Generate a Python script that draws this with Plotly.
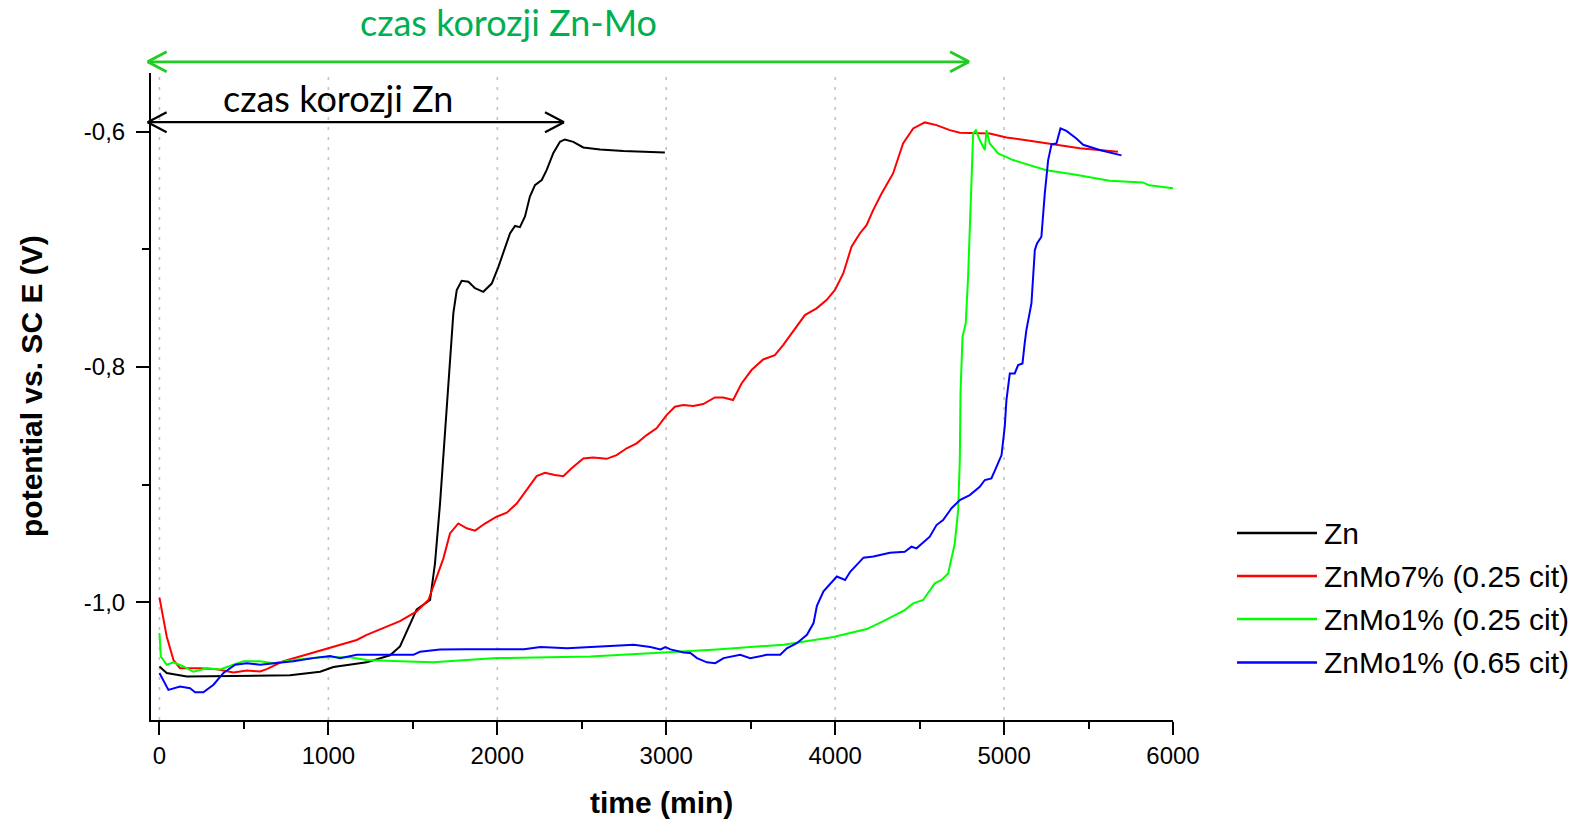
import plotly.graph_objects as go

# ---- measured open-circuit potential vs. time ----
zn_t = [0, 43, 162, 438, 635, 773, 951, 1030, 1227, 1365, 1424, 1523, 1602, 1631, 1661,
        1690, 1720, 1740, 1760, 1789, 1829, 1868, 1917, 1967, 2006, 2046, 2075, 2105,
        2134, 2164, 2193, 2223, 2263, 2292, 2332, 2371, 2400, 2450, 2509, 2608, 2746, 2992]
zn_e = [-1.0545, -1.060, -1.063, -1.0625, -1.0625, -1.062, -1.059, -1.055, -1.051, -1.045,
        -1.0375, -1.006, -0.998, -0.967, -0.916, -0.859, -0.794, -0.754, -0.7345, -0.7266,
        -0.7275, -0.733, -0.736, -0.729, -0.715, -0.698, -0.6864, -0.680, -0.681, -0.672,
        -0.655, -0.6453, -0.641, -0.6326, -0.618, -0.6085, -0.6065, -0.6085, -0.6133,
        -0.615, -0.6164, -0.6175]

mo7_t = [0, 43, 83, 122, 240, 340, 438, 517, 596, 635, 734, 832, 931, 1030, 1168, 1227,
         1424, 1523, 1592, 1681, 1720, 1769, 1819, 1868, 1927, 1996, 2056, 2115, 2174,
         2233, 2282, 2341, 2391, 2440, 2509, 2568, 2647, 2706, 2766, 2825, 2884, 2943,
         3002, 3051, 3101, 3160, 3219, 3288, 3337, 3396, 3446, 3505, 3574, 3643, 3692,
         3751, 3821, 3890, 3949, 3998, 4048, 4097, 4146, 4186, 4225, 4275, 4343, 4402,
         4462, 4531, 4600, 4679, 4738, 4915, 5014, 5152, 5290, 5448, 5674]
mo7_e = [-0.996, -1.029, -1.049, -1.056, -1.056, -1.0568, -1.0597, -1.058, -1.0588, -1.0568,
         -1.050, -1.046, -1.042, -1.0375, -1.032, -1.0276, -1.016, -1.0077, -0.998, -0.9626,
         -0.9414, -0.9329, -0.937, -0.939, -0.933, -0.9272, -0.9238, -0.916, -0.9046,
         -0.8927, -0.8898, -0.8918, -0.8927, -0.886, -0.8776, -0.8768, -0.878, -0.8748,
         -0.869, -0.8648, -0.8578, -0.852, -0.8408, -0.8337, -0.8323, -0.833, -0.8314,
         -0.8258, -0.8258, -0.828, -0.8139, -0.8025, -0.7935, -0.7898, -0.7813, -0.770,
         -0.7558, -0.7501, -0.743, -0.7346, -0.7204, -0.6977, -0.6864, -0.6793, -0.6666,
         -0.6524, -0.6354, -0.6099, -0.5971, -0.592, -0.5943, -0.5986, -0.6008, -0.6014,
         -0.6048, -0.6076, -0.6105, -0.614, -0.617]

mo1a_t = [0, 8, 43, 83, 142, 201, 280, 359, 438, 497, 596, 675, 793, 951, 1128, 1227, 1424,
          1621, 1818, 2000, 2552, 2709, 2985, 3300, 3695, 3990, 4187, 4286, 4412, 4462,
          4521, 4590, 4630, 4669, 4708, 4728, 4738, 4742, 4754, 4773, 4787, 4801, 4817,
          4833, 4856, 4886, 4896, 4915, 4965, 5053, 5152, 5251, 5408, 5625, 5821, 5860, 6000]
mo1a_e = [-1.026, -1.046, -1.053, -1.051, -1.0545, -1.059, -1.056, -1.057, -1.053, -1.050,
          -1.050, -1.0517, -1.049, -1.0466, -1.0466, -1.049, -1.050, -1.051, -1.049, -1.0474,
          -1.046, -1.0446, -1.0426, -1.040, -1.036, -1.0295, -1.0227, -1.016, -1.0066,
          -1.0009, -0.998, -0.9838, -0.981, -0.9754, -0.950, -0.9216, -0.879, -0.8224,
          -0.7742, -0.7629, -0.7232, -0.6666, -0.6014, -0.5986, -0.607, -0.6156, -0.5986,
          -0.6099, -0.6184, -0.624, -0.6283, -0.6326, -0.636, -0.6415, -0.643, -0.6455, -0.648]

mo1b_t = [0, 53, 122, 181, 211, 260, 320, 379, 448, 517, 596, 675, 793, 911, 1010, 1069,
          1168, 1345, 1503, 1542, 1661, 1818, 2000, 2158, 2256, 2414, 2611, 2808, 2906,
          2966, 2995, 3025, 3103, 3143, 3182, 3241, 3290, 3340, 3438, 3497, 3596, 3675,
          3714, 3773, 3833, 3872, 3892, 3931, 4010, 4059, 4089, 4168, 4227, 4324, 4412,
          4452, 4482, 4560, 4600, 4639, 4689, 4738, 4797, 4856, 4886, 4925, 4955, 4985,
          5004, 5014, 5034, 5063, 5083, 5109, 5122, 5132, 5162, 5182, 5195, 5221, 5241,
          5261, 5281, 5310, 5334, 5369, 5428, 5468, 5566, 5695]
mo1b_e = [-1.060, -1.0744, -1.0716, -1.073, -1.0764, -1.0764, -1.070, -1.060, -1.053,
          -1.0517, -1.053, -1.0517, -1.050, -1.0474, -1.0455, -1.0474, -1.0446, -1.0446,
          -1.0446, -1.042, -1.040, -1.0398, -1.040, -1.0398, -1.038, -1.039, -1.0375,
          -1.036, -1.038, -1.040, -1.038, -1.040, -1.0426, -1.043, -1.0474, -1.051, -1.0517,
          -1.0474, -1.0446, -1.0474, -1.0446, -1.0446, -1.039, -1.0347, -1.0276, -1.0176,
          -1.003, -0.9906, -0.978, -0.981, -0.974, -0.962, -0.961, -0.9578, -0.957, -0.9527,
          -0.9541, -0.9442, -0.9343, -0.930, -0.920, -0.913, -0.9088, -0.9017, -0.896,
          -0.8946, -0.8848, -0.8748, -0.8507, -0.828, -0.8054, -0.8054, -0.7983, -0.7969,
          -0.7799, -0.7686, -0.7459, -0.7006, -0.6949, -0.6892, -0.6524, -0.624, -0.6107,
          -0.6099, -0.5971, -0.5992, -0.6056, -0.611, -0.6155, -0.620]

series_names = ["Zn", "ZnMo7% (0.25 cit)", "ZnMo1% (0.25 cit)", "ZnMo1% (0.65 cit)"]
series_colors = ["#000000", "#ff0000", "#00ff00", "#0000ff"]

x_ticks_major = [0, 1000, 2000, 3000, 4000, 5000, 6000]
y_tick_vals = [-0.6, -0.8, -1.0]
y_tick_text = ["-0,6", "-0,8", "-1,0"]
grid_x = [0, 1000, 2000, 3000, 4000, 5000]

# corrosion-time spans (min) and the potential level they are drawn at
span_start = -70
span_zn_end = 2395
span_znmo_end = 4793
span_zn_level = -0.5918
span_znmo_level = -0.5405

XR = [-50, 6000]
YR = [-1.1, -0.55]

W, H = 1579, 822
ML, MR, MT, MB = 151, 406, 73, 102
PW, PH = W - ML - MR, H - MT - MB

FONT = "Arial, 'Liberation Sans', sans-serif"
TITLE_FONT = "Lato, 'Open Sans', sans-serif"


def paper_x(v):
    return (v - XR[0]) / (XR[1] - XR[0])


def paper_y(v):
    return (v - YR[0]) / (YR[1] - YR[0])


fig = go.Figure()
for t, e, name, col in zip([zn_t, mo7_t, mo1a_t, mo1b_t], [zn_e, mo7_e, mo1a_e, mo1b_e],
                           series_names, series_colors):
    fig.add_trace(go.Scatter(x=t, y=e, mode="lines", name=name,
                             line=dict(color=col, width=2), showlegend=False))

shapes = []
# dotted vertical grid
for g in grid_x:
    shapes.append(dict(type="line", xref="x", yref="paper", x0=g, x1=g, y0=0, y1=1,
                       layer="below", line=dict(color="#c4c4c4", width=1.6, dash="3px,7px")))


def double_arrow(x0, x1, level, color, width):
    yp = paper_y(level)
    a, b = paper_x(x0), paper_x(x1)
    hx, hy = 19 / PW, 10 / PH
    out = [dict(type="line", xref="paper", yref="paper", x0=a, x1=b, y0=yp, y1=yp,
                line=dict(color=color, width=width))]
    for tip, sgn in ((a, 1), (b, -1)):
        for s in (1, -1):
            out.append(dict(type="line", xref="paper", yref="paper",
                            x0=tip, y0=yp, x1=tip + sgn * hx, y1=yp + s * hy,
                            line=dict(color=color, width=width)))
    return out


shapes += double_arrow(span_start, span_znmo_end, span_znmo_level, "#22cc22", 2.8)
shapes += double_arrow(span_start, span_zn_end, span_zn_level, "#000000", 2.2)

annotations = [
    dict(text="czas korozji Zn-Mo", xref="paper", yref="paper",
         x=paper_x(2066), y=paper_y(-0.5068), xanchor="center", yanchor="middle",
         showarrow=False, font=dict(family=TITLE_FONT, size=36, color="#00b050")),
    dict(text="czas korozji Zn", xref="paper", yref="paper",
         x=paper_x(1057), y=paper_y(-0.571), xanchor="center", yanchor="middle",
         showarrow=False, font=dict(family=TITLE_FONT, size=36, color="#000000")),
    dict(text="<b>time (min)</b>", xref="paper", yref="paper",
         x=(661 - ML) / PW, y=-(802 - (H - MB)) / PH, xanchor="center", yanchor="middle",
         showarrow=False, font=dict(family=FONT, size=30, color="#000000")),
    dict(text="<b>potential vs. SC E (V)</b>", xref="paper", yref="paper",
         x=(32 - ML) / PW, y=((H - MB) - 386) / PH, xanchor="center", yanchor="middle",
         textangle=-90, showarrow=False, font=dict(family=FONT, size=30, color="#000000")),
]

# legend: line sample plus label for each series
leg_x0, leg_x1, leg_tx = (1237 - ML) / PW, (1317 - ML) / PW, (1322 - ML) / PW
leg_rows = [533, 576, 619, 662.5]
for row, name, col in zip(leg_rows, series_names, series_colors):
    yp = ((H - MB) - row) / PH
    shapes.append(dict(type="line", xref="paper", yref="paper", x0=leg_x0, x1=leg_x1,
                       y0=yp, y1=yp, line=dict(color=col, width=2.6)))
    annotations.append(dict(text=name, xref="paper", yref="paper", x=leg_tx, y=yp,
                            xanchor="left", yanchor="middle", showarrow=False,
                            font=dict(family=FONT, size=30, color="#000000")))

fig.update_layout(
    width=W, height=H, autosize=False,
    margin=dict(l=ML, r=MR, t=MT, b=MB, pad=0),
    paper_bgcolor="white", plot_bgcolor="white",
    shapes=shapes, annotations=annotations, showlegend=False,
    font=dict(family=FONT, color="#000000"),
    xaxis=dict(range=XR, showline=True, linecolor="black", linewidth=2, mirror=False,
               tickmode="array", tickvals=x_ticks_major, tickformat="d",
               ticks="outside", ticklen=13, tickwidth=2, tickcolor="black",
               tickfont=dict(family=FONT, size=24, color="black"),
               showgrid=False, zeroline=False,
               minor=dict(dtick=500, tick0=0, ticks="outside", ticklen=7, tickwidth=2,
                          tickcolor="black", showgrid=False)),
    yaxis=dict(range=YR, showline=True, linecolor="black", linewidth=2, mirror=False,
               tickmode="array", tickvals=y_tick_vals, ticktext=y_tick_text,
               ticks="outside", ticklen=13, tickwidth=2, tickcolor="black",
               ticklabelstandoff=6,
               tickfont=dict(family=FONT, size=24, color="black"),
               showgrid=False, zeroline=False,
               minor=dict(tickmode="array", tickvals=[-0.7, -0.9], ticks="outside",
                          ticklen=7, tickwidth=2, tickcolor="black", showgrid=False)),
)

fig.write_html("out.html")
